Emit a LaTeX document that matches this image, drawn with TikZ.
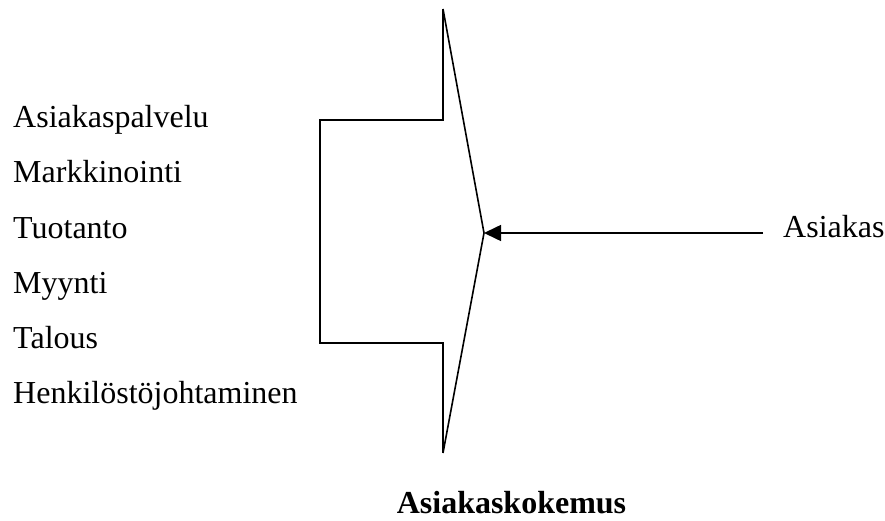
\documentclass[tikz,border=0pt]{standalone}
\usepackage{fontspec}
\setmainfont{Liberation Serif}
\usetikzlibrary{arrows.meta}
\begin{document}
\begin{tikzpicture}[x=1pt,y=-1pt,
  lbl/.style={inner sep=0pt,anchor=base west,font=\fontsize{32}{38}\selectfont},
  outline/.style={line width=1.6pt,line join=miter}]
\useasboundingbox (0,0) rectangle (885,521);
% left labels
\node[lbl] (l1) at (13,128) {Asiakaspalvelu};
\node[lbl] (l2) at (13,183) {Markkinointi};
\node[lbl] (l3) at (13,238) {Tuotanto};
\node[lbl] (l4) at (13,293) {Myynti};
\node[lbl] (l5) at (13,348) {Talous};
\node[lbl] (l6) at (13,403) {Henkilöstöjohtaminen};
\node[lbl] (cust) at (783,237) {Asiakas};
\node[lbl,anchor=base,font=\fontsize{32}{38}\selectfont\bfseries] (exp) at (511.5,513) {Asiakaskokemus};
% shape
\coordinate (top) at (443,9);
\coordinate (tip) at (484,233);
\coordinate (bot) at (443,453);
\draw[outline] (top) -- (443,120) -- (320,120) -- (320,343) -- (443,343) -- (bot);
\draw[outline] (top) -- (tip) -- (bot);
% arrow
\coordinate (astart) at (763,233);
\draw[line width=1.6pt,-{Triangle[length=17pt,width=16pt]}] (astart) -- (tip);
\end{tikzpicture}
\end{document}
